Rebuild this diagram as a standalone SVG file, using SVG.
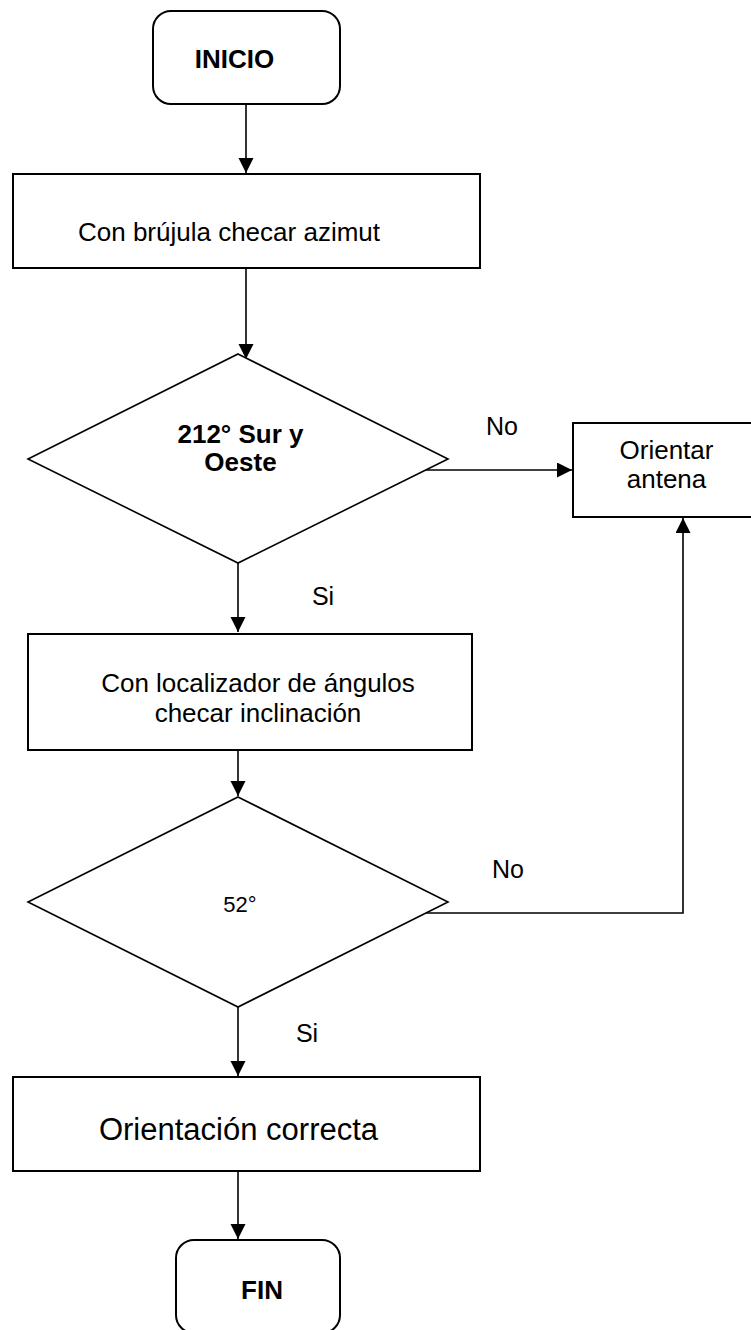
<svg xmlns="http://www.w3.org/2000/svg" width="751" height="1330" viewBox="0 0 751 1330">
<style>
.box{fill:#fff;stroke:#000;stroke-width:2}
.dia{fill:#fff;stroke:#000;stroke-width:1.6}
.con{fill:none;stroke:#000;stroke-width:1.6}
text{font-family:"Liberation Sans",Arial,sans-serif;fill:#000;text-anchor:middle}
.t{font-size:26px}
.b{font-size:26px;font-weight:bold}
.lbl{font-size:25px}
</style>
<defs>
<marker id="arr" markerUnits="userSpaceOnUse" markerWidth="16" markerHeight="16" refX="15" refY="7.5" orient="auto">
<path d="M0,0 L15,7.5 L0,15 Z" fill="#000"/>
</marker>
</defs>
<rect width="751" height="1330" fill="#fff"/>
<g id="connectors">
<line class="con" x1="246" y1="104" x2="246" y2="173" marker-end="url(#arr)"/>
<line class="con" x1="246" y1="268" x2="246" y2="359" marker-end="url(#arr)"/>
<line class="con" x1="425" y1="470" x2="572" y2="470" marker-end="url(#arr)"/>
<line class="con" x1="238" y1="563" x2="238" y2="632" marker-end="url(#arr)"/>
<line class="con" x1="238" y1="750" x2="238" y2="796" marker-end="url(#arr)"/>
<polyline class="con" points="425,913 683,913 683,518" marker-end="url(#arr)"/>
<line class="con" x1="238" y1="1007" x2="238" y2="1076" marker-end="url(#arr)"/>
<line class="con" x1="238" y1="1171" x2="238" y2="1239" marker-end="url(#arr)"/>
<text class="lbl" x="502" y="435">No</text>
<text class="lbl" x="323" y="605">Si</text>
<text class="lbl" x="508" y="878">No</text>
<text class="lbl" x="307" y="1042">Si</text>
</g>
<g id="inicio">
<rect class="box" x="153" y="11" width="187" height="93" rx="18" ry="18"/>
<text class="b" x="234.5" y="68">INICIO</text>
</g>
<g id="brujula">
<rect class="box" x="13" y="174" width="467" height="94"/>
<text class="t" x="229" y="241">Con brújula checar azimut</text>
</g>
<g id="decision1">
<polygon class="dia" points="238,354 448,459 238,563 28,459"/>
<text class="b" x="240.5" y="443">212° Sur y</text>
<text class="b" x="240.5" y="471">Oeste</text>
</g>
<g id="orientar">
<rect class="box" x="573" y="423" width="190" height="94"/>
<text class="t" x="666.5" y="459">Orientar</text>
<text class="t" x="666.5" y="488">antena</text>
</g>
<g id="localizador">
<rect class="box" x="28" y="634" width="444" height="116"/>
<text class="t" x="258" y="692">Con localizador de ángulos</text>
<text class="t" x="258" y="722">checar inclinación</text>
</g>
<g id="decision2">
<polygon class="dia" points="238,797 448,902 238,1007 28,902"/>
<text x="240" y="912" style="font-size:22px">52°</text>
</g>
<g id="correcta">
<rect class="box" x="13" y="1077" width="467" height="94"/>
<text x="238.5" y="1140" style="font-size:31px">Orientación correcta</text>
</g>
<g id="fin">
<rect class="box" x="176" y="1240" width="164" height="93" rx="18" ry="18"/>
<text class="b" x="262" y="1299">FIN</text>
</g>
</svg>
